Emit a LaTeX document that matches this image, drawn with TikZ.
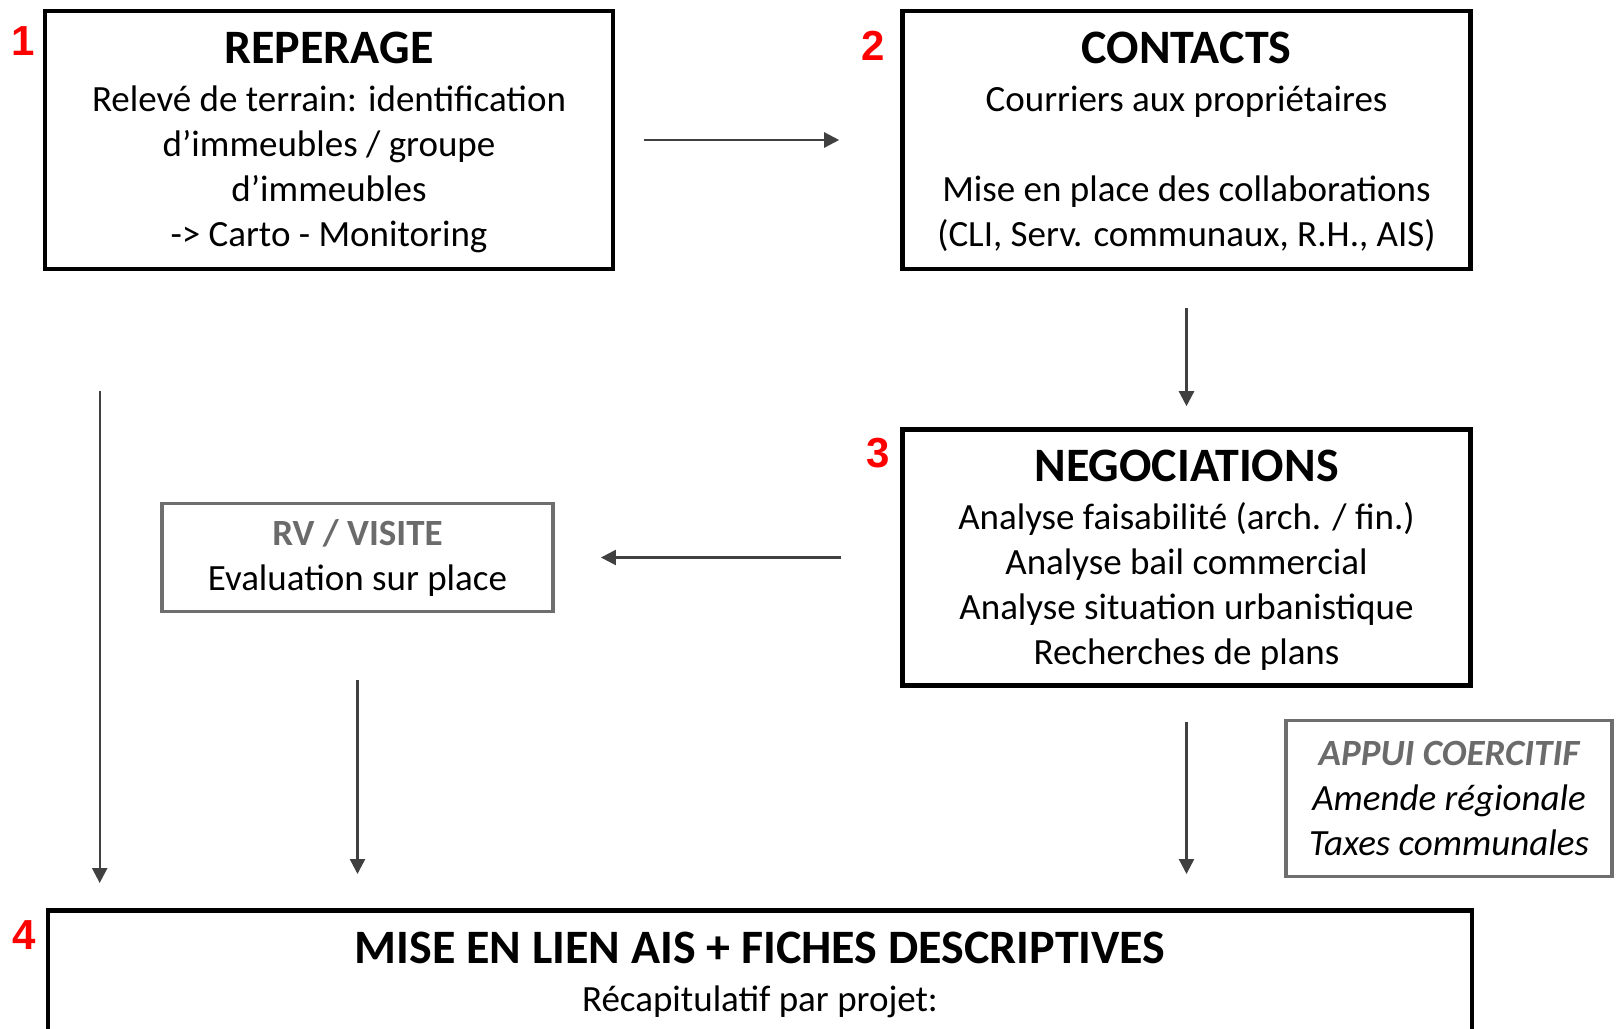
\documentclass[tikz,border=0pt]{standalone}
\usepackage{fontspec}
\setmainfont{Carlito}
\newfontfamily\numfont{Liberation Sans}
\usetikzlibrary{arrows.meta}
\definecolor{arrowgray}{HTML}{404040}
\definecolor{boxgray}{HTML}{6E6E6E}
\definecolor{titlegray}{HTML}{6B6B6B}
\begin{document}
\begin{tikzpicture}[x=0.5pt,y=-0.5pt,
    mainbox/.style={draw=black,line width=2.3pt,align=center,minimum width=284pt,inner sep=0pt,text depth=0.5pt,font=\fontsize{18.5}{22.5}\selectfont},
    sidebox/.style={draw=boxgray,line width=1.9pt,align=center,inner sep=0pt,font=\fontsize{18.5}{22.5}\selectfont},
    num/.style={text=red,inner sep=0pt,font=\numfont\bfseries\fontsize{21}{24}\selectfont},
    arr/.style={draw=arrowgray,line width=1.2pt,-{Triangle[length=7.5pt,width=7.5pt]}}]
\useasboundingbox (0,0) rectangle (1616,1028);
\clip (0,0) rectangle (1616,1028);
% the four steps
\node[mainbox,minimum height=129pt] (reperage) at (329,140)
  {{\bfseries\fontsize{24}{28}\selectfont REPERAGE}\\[1.5pt]
   Relevé de terrain: identification\\ d’immeubles / groupe\\ d’immeubles\\ -> Carto - Monitoring};
\node[mainbox,minimum height=129pt] (contacts) at (1186.5,140)
  {{\bfseries\fontsize{24}{28}\selectfont CONTACTS}\\[1.5pt]
   Courriers aux propriétaires\\[22.5pt] Mise en place des collaborations\\ (CLI, Serv. communaux, R.H., AIS)};
\node[mainbox,minimum height=128pt] (nego) at (1186.5,557.5)
  {{\bfseries\fontsize{24}{28}\selectfont NEGOCIATIONS}\\[1.5pt]
   Analyse faisabilité (arch. / fin.)\\ Analyse bail commercial\\ Analyse situation urbanistique\\ Recherches de plans};
\node[mainbox,minimum width=712pt,minimum height=150pt,anchor=north] (lien) at (760,908) {};
\node[align=center,anchor=north,inner sep=0pt,font=\fontsize{18.5}{22.5}\selectfont] (lientxt) at (760,932)
  {{\bfseries\fontsize{24}{28}\selectfont MISE EN LIEN AIS + FICHES DESCRIPTIVES}\\[1.5pt]
   Récapitulatif par projet:};
% side boxes
\node[sidebox,minimum width=195.5pt,minimum height=54pt] (visite) at (357.5,557.5)
  {{\bfseries\color{titlegray}RV / VISITE}\\ Evaluation sur place};
\node[sidebox,minimum width=163pt,minimum height=78pt,font=\itshape\fontsize{18.5}{22.5}\selectfont] (appui) at (1449,798.5)
  {{\bfseries\color{titlegray}APPUI COERCITIF}\\ Amende régionale\\ Taxes communales};
% numbers
\node[num] (n1) at (23,41) {1};
\node[num] (n2) at (873,46) {2};
\node[num] (n3) at (878,453) {3};
\node[num] (n4) at (24,935) {4};
% arrows
\draw[arr,shorten <=14.5pt,shorten >=30.5pt] (reperage) -- (contacts);
\draw[arr,shorten <=18.5pt,shorten >=10.5pt] (contacts) -- (nego);
\draw[arr,shorten <=29.5pt,shorten >=23pt] (nego) -- (visite);
\draw[arr,shorten <=60pt,shorten >=12.5pt] ([xshift=28.5pt]reperage.south west) -- ([xshift=28.5pt]reperage.south west |- lien.north);
\draw[arr,shorten <=33.5pt,shorten >=17pt] (visite.south) -- (visite.south |- lien.north);
\draw[arr,shorten <=17pt,shorten >=17pt] (nego.south) -- (nego.south |- lien.north);
\end{tikzpicture}
\end{document}
